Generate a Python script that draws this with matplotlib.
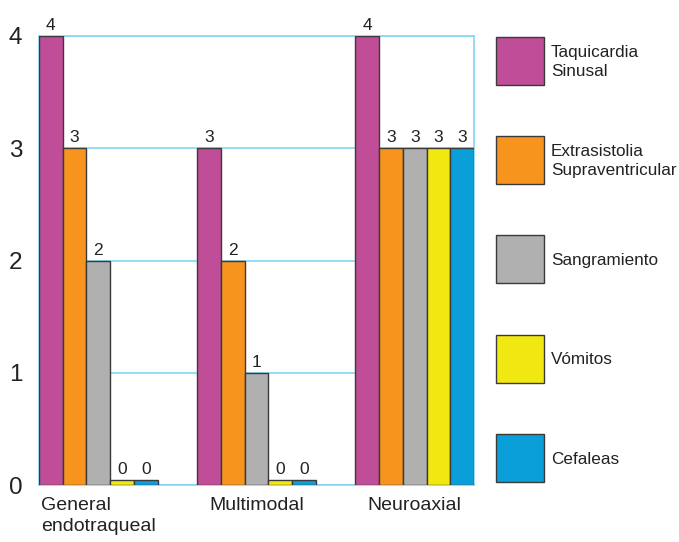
import matplotlib
matplotlib.use("Agg")
import matplotlib.pyplot as plt
from matplotlib.patches import Rectangle
import numpy as np

plt.rcParams['font.family'] = ['Liberation Sans', 'DejaVu Sans']

categories = ["General\nendotraqueal", "Multimodal", "Neuroaxial"]
series_names = ["Taquicardia\nSinusal", "Extrasistolia\nSupraventricular",
                "Sangramiento", "Vómitos", "Cefaleas"]
taquicardia = [4, 3, 4]
extrasistolia = [3, 2, 3]
sangramiento = [2, 1, 3]
vomitos = [0, 0, 3]
cefaleas = [0, 0, 3]
series_values = [taquicardia, extrasistolia, sangramiento, vomitos, cefaleas]
colors = ["#C04D98", "#F7941E", "#B0B0B0", "#F2E811", "#0B9FDA"]
grid_color = "#86D5F2"
edge_color = "#3a3a3a"

W, H = 679, 542
fig = plt.figure(figsize=(W / 100, H / 100), dpi=100)
ax = fig.add_axes([39 / W, (H - 485) / H, (474 - 39) / W, (485 - 36) / H])

n = len(series_values)
width = 0.15
x = np.arange(len(categories))
min_h = 0.045
for i, (vals, c) in enumerate(zip(series_values, colors)):
    pos = x - width * n / 2 + width * (i + 0.5)
    heights = [max(v, min_h) for v in vals]
    ax.bar(pos, heights, width=width, color=c, edgecolor=edge_color,
           linewidth=1.0, zorder=3)
    for p, v, h in zip(pos, vals, heights):
        ax.text(p, h + 0.025, str(v), ha='center', va='bottom', fontsize=12.5,
                color='#222222', clip_on=False)

ax.set_xlim(-width * n / 2, len(categories) - 1 + width * n / 2)
ax.set_ylim(0, 4)
ax.set_yticks([0, 1, 2, 3, 4])
ax.set_yticklabels(["0", "1", "2", "3", "4"], fontsize=17.5, color='#222222')
ax.set_xticks(x)
ax.set_xticklabels(categories, fontsize=14, color='#222222', va='top')
for t in ax.get_xticklabels():
    t.set_multialignment('left')
    t.set_linespacing(1.3)
ax.tick_params(axis='both', length=0)
ax.tick_params(axis='y', pad=12)
ax.tick_params(axis='x', pad=9)
ax.yaxis.grid(True, color=grid_color, linewidth=1.2, zorder=0)
ax.set_axisbelow(True)
for s in ax.spines.values():
    s.set_color(grid_color)
    s.set_linewidth(1.2)

# legend
lax = fig.add_axes([0, 0, 1, 1])
lax.set_xlim(0, W)
lax.set_ylim(H, 0)
lax.axis('off')
box_tops = [37, 136, 235, 335, 434]
for top, name, c in zip(box_tops, series_names, colors):
    lax.add_patch(Rectangle((496, top), 48, 48, facecolor=c, edgecolor=edge_color,
                            linewidth=1.0))
    lax.text(551, top + 25, name, ha='left', va='center', fontsize=12.3,
             color='#222222', linespacing=1.3)

fig.savefig("out.png", dpi=100)
